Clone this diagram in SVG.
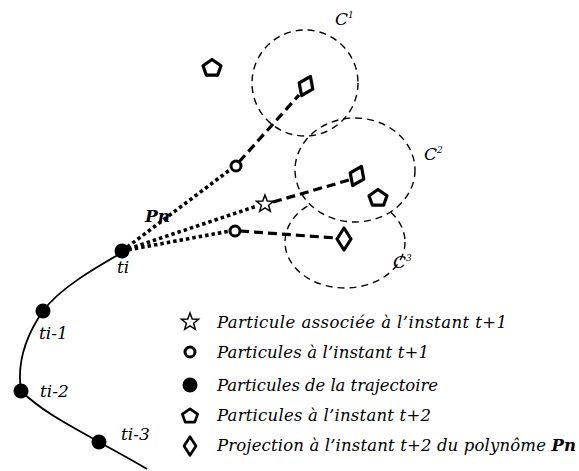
<svg xmlns="http://www.w3.org/2000/svg" width="579" height="471" viewBox="0 0 579 471">
<style>
.circ{fill:none;stroke:#000;stroke-width:1.4;stroke-dasharray:7 5}
.dot{fill:none;stroke:#000;stroke-width:3.6;stroke-dasharray:3.5 3}
.dash{fill:none;stroke:#000;stroke-width:3.2;stroke-dasharray:9 5}
.lbl{font-family:"DejaVu Serif",serif;font-style:italic;font-size:17px;fill:#000}
.leg{font-family:"DejaVu Serif",serif;font-style:italic;font-size:16.5px;fill:#000}
.mk{fill:#fff;stroke:#000;stroke-width:3.2;stroke-linejoin:round}
.st{fill:#fff;stroke:#000;stroke-width:1.5;stroke-linejoin:miter}
.ring{fill:#fff;stroke:#000;stroke-width:3}
</style>
<defs>
<path id="pent" d="M0,-8.5 L9,-2.2 L5.6,7.2 L-5.6,7.2 L-9,-2.2 Z"/>
<path id="star" d="M0,-9 L2.23,-3.07 L8.56,-2.78 L3.61,1.17 L5.29,7.28 L0,3.8 L-5.29,7.28 L-3.61,1.17 L-8.56,-2.78 L-2.23,-3.07 Z"/>
<path id="diam" d="M0,-11 L7,0 L0,11 L-7,0 Z"/>
<path id="diam2" d="M0,-10.5 L7.5,0 L0,10.5 L-7.5,0 Z"/>
</defs>

<g id="zones">
<ellipse id="C3" class="circ" cx="345" cy="242" rx="60" ry="46"/>
<ellipse id="C2" class="circ" cx="355" cy="170" rx="60" ry="52" style="fill:#fff"/>
<circle id="C1" class="circ" cx="305" cy="83" r="53"/>
<text class="lbl" x="335" y="25">C<tspan font-size="9" dy="-7">1</tspan></text>
<text class="lbl" x="424" y="160">C<tspan font-size="9" dy="-7">2</tspan></text>
<text class="lbl" x="393" y="268">C<tspan font-size="9" dy="-7">3</tspan></text>
</g>

<g id="trajectory">
<path d="M123,252 C95,268 60,288 43,311 C25,337 17,365 21,391 C45,414 75,428 99,442 C115,451 132,460 147,469" fill="none" stroke="#000" stroke-width="1.8"/>
</g>

<g id="connectors">
<line class="dot" x1="122" y1="251" x2="231" y2="169"/>
<line class="dot" x1="122" y1="251" x2="257" y2="206"/>
<line class="dot" x1="122" y1="251" x2="230" y2="231"/>
<line class="dash" x1="239" y1="162" x2="299" y2="95"/>
<line class="dash" x1="273" y1="202" x2="349" y2="180"/>
<line class="dash" x1="240" y1="231" x2="336" y2="238"/>
</g>

<g id="ti"><circle cx="122" cy="251" r="7.5"/><text class="lbl" x="117" y="273">ti</text></g>
<g id="ti-1"><circle cx="43" cy="311" r="7.5"/><text class="lbl" x="39" y="339">ti-1</text></g>
<g id="ti-2"><circle cx="21" cy="391" r="7.5"/><text class="lbl" x="40" y="397">ti-2</text></g>
<g id="ti-3"><circle cx="99" cy="442" r="7.5"/><text class="lbl" x="121" y="440">ti-3</text></g>
<g id="Pn"><text class="lbl" x="145" y="222" font-weight="bold">Pn</text></g>

<g id="p1"><use href="#pent" class="mk" transform="translate(212,68)"/></g>
<g id="p2"><use href="#pent" class="mk" transform="translate(378,198)"/></g>
<g id="o1"><circle class="ring" cx="236" cy="166" r="5"/></g>
<g id="o2"><circle class="ring" cx="235" cy="231" r="5"/></g>
<g id="s1"><use href="#star" class="st" transform="translate(265,204)"/></g>
<g id="d1"><use href="#diam2" class="mk" transform="translate(306,86) rotate(25)"/></g>
<g id="d2"><use href="#diam2" class="mk" transform="translate(357,176) rotate(25)"/></g>
<g id="d3"><use href="#diam" class="mk" transform="translate(344,239)"/></g>

<g id="legend">
<use href="#star" class="st" transform="translate(190,322)"/>
<text class="leg" x="217" y="328" textLength="290" lengthAdjust="spacing">Particule associée à l’instant t+1</text>
<circle class="ring" cx="190" cy="352" r="5"/>
<text class="leg" x="217" y="358" textLength="212" lengthAdjust="spacing">Particules à l’instant t+1</text>
<circle cx="190" cy="385" r="7.5"/>
<text class="leg" x="217" y="391" textLength="221" lengthAdjust="spacing">Particules de la trajectoire</text>
<use href="#pent" class="mk" transform="translate(190,416) scale(0.85)"/>
<text class="leg" x="217" y="421" textLength="214" lengthAdjust="spacing">Particules à l’instant t+2</text>
<use href="#diam" class="mk" transform="translate(190,446) scale(0.85)"/>
<text class="leg" x="217" y="451" textLength="359" lengthAdjust="spacing">Projection à l’instant t+2 du polynôme <tspan font-weight="bold">Pn</tspan></text>
</g>
</svg>
